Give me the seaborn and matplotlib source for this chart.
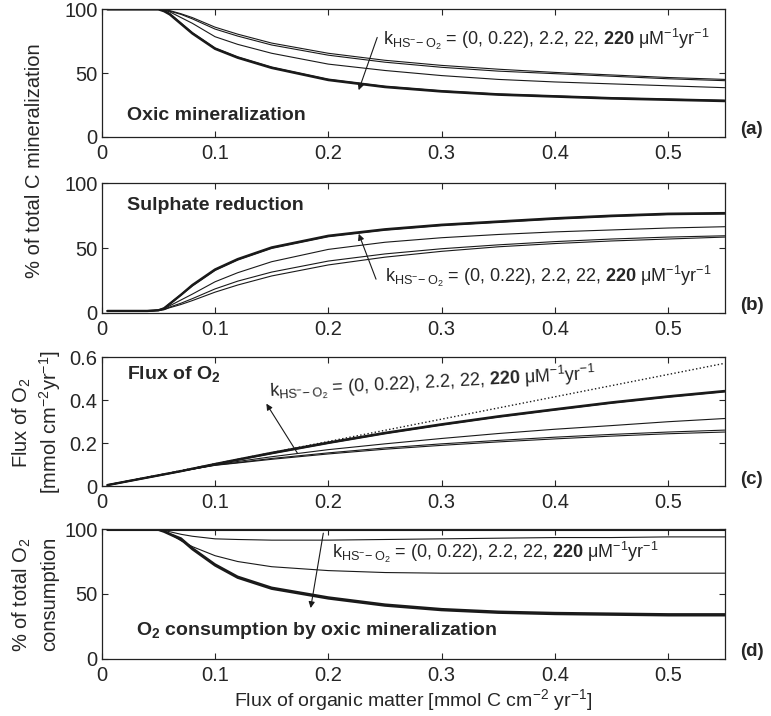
import numpy as np
import pandas as pd
import matplotlib
matplotlib.use("Agg")
import matplotlib.pyplot as plt
import seaborn as sns

# flux of organic matter [mmol C cm-2 yr-1]
flux = [0.005, 0.02, 0.04, 0.05, 0.055, 0.06, 0.07, 0.08, 0.1, 0.12, 0.15,
        0.2, 0.25, 0.3, 0.35, 0.4, 0.45, 0.5, 0.55]
k_values = ["0", "0.22", "2.2", "22", "220"]

# (a) % of total C mineralization, oxic
oxic = {
    "0":    [100, 100, 100, 100, 99.5, 99, 96.5, 93.5, 86, 80.5, 73.5, 65.5, 60, 56, 53, 50.5, 48.5, 46.5, 45],
    "0.22": [100, 100, 100, 100, 99.5, 98.5, 96, 92.5, 84.5, 79, 72, 64, 58.5, 54.5, 51.5, 49.5, 47.5, 45.5, 44],
    "2.2":  [100, 100, 100, 100, 99.5, 98, 93.5, 89, 78.5, 72.5, 65.5, 57, 52, 48, 45, 43, 41.5, 40, 38.5],
    "22":   [100, 100, 100, 100, 99, 96.5, 89, 81.5, 69.5, 62.5, 54.5, 45, 39.5, 36, 33.5, 32, 30.5, 29.5, 28.5],
    "220":  [100, 100, 100, 100, 98.5, 96, 88.5, 81, 69, 62, 54, 44.5, 39, 35.5, 33, 31.5, 30, 29, 28],
}
# (b) % of total C mineralization, sulphate reduction
sulphate = {
    "0":    [1.5, 1.5, 1.5, 2, 2.5, 4, 6.5, 9.5, 16, 21.5, 28.5, 37, 43, 47.5, 51, 53.5, 55.5, 57, 58.5],
    "0.22": [1.5, 1.5, 1.5, 2, 2.5, 4.5, 7.5, 11, 18.5, 24.5, 31.5, 40, 45.5, 49.5, 52.5, 55, 57, 58.5, 59.5],
    "2.2":  [1.5, 1.5, 1.5, 2, 3, 5.5, 10, 14.5, 24, 31, 39.5, 49, 54.5, 58, 60.5, 62.5, 64, 65.5, 66.5],
    "22":   [1.5, 1.5, 1.5, 2, 3.5, 7, 14, 21, 33, 41, 50, 59, 64, 67.5, 70, 72.5, 74.5, 76, 76.5],
    "220":  [1.5, 1.5, 1.5, 2, 3.5, 7, 14, 21.5, 33.5, 41.5, 50.5, 59.5, 64.5, 68, 70.5, 73, 75, 76.5, 77],
}
# (c) flux of O2 [mmol cm-2 yr-1]
o2_flux = {
    "0":    [0.005, 0.02, 0.04, 0.05, 0.055, 0.06, 0.07, 0.079, 0.097, 0.108, 0.125, 0.15, 0.172, 0.19, 0.206, 0.22, 0.233, 0.244, 0.252],
    "0.22": [0.005, 0.02, 0.04, 0.05, 0.055, 0.06, 0.07, 0.079, 0.098, 0.11, 0.129, 0.155, 0.178, 0.197, 0.213, 0.228, 0.241, 0.252, 0.261],
    "2.2":  [0.005, 0.02, 0.04, 0.05, 0.055, 0.06, 0.07, 0.08, 0.099, 0.115, 0.137, 0.17, 0.197, 0.222, 0.245, 0.265, 0.282, 0.3, 0.315],
    "22":   [0.005, 0.02, 0.04, 0.05, 0.055, 0.06, 0.07, 0.081, 0.102, 0.122, 0.152, 0.2, 0.245, 0.285, 0.322, 0.355, 0.387, 0.415, 0.44],
    "220":  [0.005, 0.02, 0.04, 0.05, 0.055, 0.06, 0.07, 0.081, 0.103, 0.124, 0.155, 0.203, 0.248, 0.288, 0.325, 0.358, 0.39, 0.418, 0.443],
}
o2_dotted = [0.005, 0.021, 0.042, 0.052, 0.057, 0.062, 0.073, 0.083, 0.104, 0.125, 0.156,
             0.208, 0.26, 0.312, 0.364, 0.416, 0.468, 0.52, 0.572]
# (d) % of total O2 consumption by oxic mineralization
o2_cons = {
    "0":    [99.5] * 19,
    "0.22": [99.5, 99.5, 99.5, 99.5, 99, 98, 96, 94.5, 92.5, 92, 91.5, 91.5, 92, 92.5, 93, 93.5, 93.5, 94, 94],
    "2.2":  [99.5, 99.5, 99.5, 99.5, 98.5, 96.5, 91, 86.5, 79.5, 75, 71, 68, 66.5, 66, 66, 66, 66, 66, 66],
    "22":   [99.5, 99.5, 99.5, 99.5, 98.5, 96.5, 93, 85.5, 73, 63.5, 55, 47.5, 42, 38.5, 36.5, 35.5, 35, 34.5, 34.5],
    "220":  [99.5, 99.5, 99.5, 99.5, 98, 96, 92, 84.5, 72, 62.5, 54, 46.5, 41, 37.5, 35.5, 34.5, 34, 33.5, 33.5],
}

line_w = {"0": 0.8, "0.22": 0.8, "2.2": 0.8, "22": 1.3, "220": 1.7}

sns.set_style("ticks")
plt.rcParams["font.family"] = ["Liberation Sans", "DejaVu Sans"]
plt.rcParams["mathtext.fontset"] = "custom"
plt.rcParams["mathtext.rm"] = "Liberation Sans"
plt.rcParams["mathtext.it"] = "Liberation Sans:italic"
plt.rcParams["mathtext.bf"] = "Liberation Sans:bold"

k_label = (r"k$_{\mathrm{HS^{-}\!-O_{2}}}$ = (0, 0.22), 2.2, 22, "
           r"$\mathbf{220}$ μM$^{-1}$yr$^{-1}$")


def draw_series(ax, data):
    for k in k_values:
        sns.lineplot(x=flux, y=data[k], ax=ax, color="#1a1a1a",
                     lw=line_w[k], estimator=None, sort=False)


def style_axis(ax, yticks, yticklabels, ymax):
    ax.set_xlim(0, 0.55)
    ax.set_ylim(0, ymax)
    ax.set_xticks([0, 0.1, 0.2, 0.3, 0.4, 0.5])
    ax.set_xticklabels(["0", "0.1", "0.2", "0.3", "0.4", "0.5"])
    ax.set_yticks(yticks)
    ax.set_yticklabels(yticklabels)
    ax.tick_params(direction="in", top=True, right=True, length=4,
                   width=0.8, labelsize=14.5)
    ax.tick_params(axis="x", pad=5)
    ax.tick_params(axis="y", pad=3)
    for sp in ax.spines.values():
        sp.set_linewidth(0.9)
        sp.set_color("#222222")
    ax.set_xlabel("")
    ax.set_ylabel("")


fig = plt.figure(figsize=(7.71, 7.16), dpi=100)
ax_a = fig.add_axes([0.132, 0.809, 0.808, 0.178])
ax_b = fig.add_axes([0.132, 0.563, 0.808, 0.181])
ax_c = fig.add_axes([0.132, 0.321, 0.808, 0.180])
ax_d = fig.add_axes([0.132, 0.080, 0.808, 0.181])

k_size = 13
title_size = 14
arrow_props = dict(arrowstyle="-|>", color="#1a1a1a", lw=0.8, mutation_scale=9)

# (a)
draw_series(ax_a, oxic)
style_axis(ax_a, [0, 50, 100], ["0", "50", "100"], 100)
ax_a.text(0.022, 17, "Oxic mineralization", fontsize=title_size, fontweight="bold", va="center")
ax_a.text(0.248, 76, k_label, fontsize=k_size, va="center")
ax_a.annotate("", xy=(0.226, 34.5), xytext=(0.244, 80), arrowprops=arrow_props)

# (b)
draw_series(ax_b, sulphate)
style_axis(ax_b, [0, 50, 100], ["0", "50", "100"], 100)
ax_b.text(0.022, 83, "Sulphate reduction", fontsize=title_size, fontweight="bold", va="center")
ax_b.text(0.25, 28, k_label, fontsize=k_size, va="center")
ax_b.annotate("", xy=(0.226, 63), xytext=(0.243, 24), arrowprops=arrow_props)

# (c)
draw_series(ax_c, o2_flux)
sns.lineplot(x=flux, y=o2_dotted, ax=ax_c, color="#1a1a1a", lw=1.0,
             linestyle=":", estimator=None, sort=False)
style_axis(ax_c, [0, 0.2, 0.4, 0.6], ["0", "0.2", "0.4", "0.6"], 0.6)
ax_c.text(0.022, 0.52, r"Flux of O$_\mathbf{2}$", fontsize=title_size, fontweight="bold", va="center")
ax_c.text(0.148, 0.44, k_label, fontsize=k_size, va="center", rotation=3,
          rotation_mode="anchor")
ax_c.annotate("", xy=(0.144, 0.395), xytext=(0.174, 0.143), arrowprops=arrow_props)

# (d)
draw_series(ax_d, o2_cons)
style_axis(ax_d, [0, 50, 100], ["0", "50", "100"], 100)
ax_d.text(0.03, 22, r"O$_\mathbf{2}$ consumption by oxic mineralization",
          fontsize=title_size, fontweight="bold", va="center")
ax_d.text(0.203, 82, k_label, fontsize=k_size, va="center")
ax_d.annotate("", xy=(0.184, 37), xytext=(0.196, 99), arrowprops=arrow_props)

# panel letters
for ax, letter in zip([ax_a, ax_b, ax_c, ax_d], ["(a)", "(b)", "(c)", "(d)"]):
    bottom = ax.get_position().y0
    fig.text(0.975, bottom + 0.01, letter, fontsize=13.5,
             fontweight="bold", va="center", ha="center")

# axis labels
fig.text(0.045, 0.775, "% of total C mineralization", rotation=90,
         fontsize=14.5, ha="center", va="center")
fig.text(0.028, 0.41, r"Flux of O$_2$", rotation=90, fontsize=14.5,
         ha="center", va="center")
fig.text(0.065, 0.41, r"[mmol cm$^{-2}$yr$^{-1}$]", rotation=90, fontsize=14.5,
         ha="center", va="center")
fig.text(0.028, 0.17, r"% of total O$_2$", rotation=90, fontsize=14.5,
         ha="center", va="center")
fig.text(0.065, 0.17, "consumption", rotation=90, fontsize=14.5,
         ha="center", va="center")
fig.text(0.536, 0.022, r"Flux of organic matter [mmol C cm$^{-2}$ yr$^{-1}$]",
         fontsize=14, ha="center", va="center")

fig.savefig("out.png", dpi=100)
